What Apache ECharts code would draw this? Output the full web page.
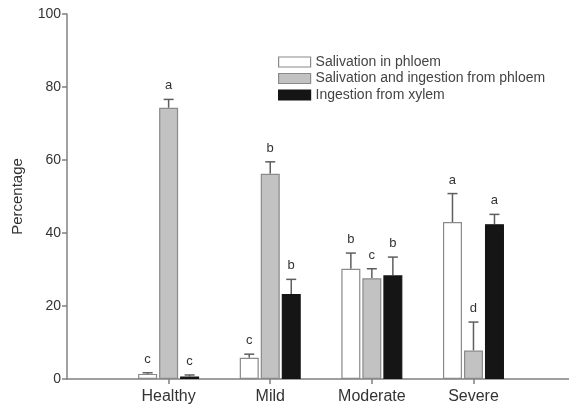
<!DOCTYPE html>
<html><head><meta charset="utf-8">
<script src="https://cdn.jsdelivr.net/npm/echarts@6/dist/echarts.min.js"></script>
<style>html,body{margin:0;padding:0;background:#fff}#c{width:569px;height:408px}</style>
</head><body><div id="c"></div>
<script>
const categories = ['Healthy', 'Mild', 'Moderate', 'Severe'];
const seriesNames = ['Salivation in phloem', 'Salivation and ingestion from phloem', 'Ingestion from xylem'];
const salivationPhloem = [1.4, 5.8, 30.2, 43.0];
const salivationIngestion = [74.3, 56.2, 27.6, 7.8];
const ingestionXylem = [0.7, 23.3, 28.4, 42.4];
const errSalivationPhloem = [0.3, 1.0, 4.3, 7.8];
const errSalivationIngestion = [2.3, 3.3, 2.6, 7.8];
const errIngestionXylem = [0.4, 4.0, 5.0, 2.7];
const lettersSalivationPhloem = ['c', 'c', 'b', 'a'];
const lettersSalivationIngestion = ['a', 'b', 'c', 'd'];
const lettersIngestionXylem = ['c', 'b', 'b', 'a'];
const yTicks = [0, 20, 40, 60, 80, 100];

const values = [salivationPhloem, salivationIngestion, ingestionXylem];
const errs = [errSalivationPhloem, errSalivationIngestion, errIngestionXylem];
const letters = [lettersSalivationPhloem, lettersSalivationIngestion, lettersIngestionXylem];
const fills = ['#ffffff', '#c2c2c2', '#151515'];
const borders = ['#8a8a8a', '#8a8a8a', '#151515'];
const BW = 19, GAP = 2;
const catPos = categories.map((c, k) => k + 1);

const chart = echarts.init(document.getElementById('c'), null, {renderer: 'canvas'});
const series = [];
values.forEach((vals, i) => {
  series.push({
    name: seriesNames[i], type: 'bar', barWidth: BW, barGap: (GAP / BW * 100) + '%',
    data: vals.map((v, k) => [catPos[k], v]),
    itemStyle: {color: fills[i], borderColor: borders[i], borderWidth: 1.2},
    z: 3
  });
});
values.forEach((vals, i) => {
  const data = vals.map((v, k) => [catPos[k], v, errs[i][k]]);
  series.push({
    type: 'custom', z: 2, silent: true,
    data: data,
    encode: {x: 0, y: 1},
    renderItem: function (params, api) {
      const k = api.value(0), v = api.value(1), e = api.value(2);
      const lt = letters[i][params.dataIndex];
      const off = (i - 1) * (BW + GAP);
      const p0 = api.coord([k, v]);
      const p1 = api.coord([k, v + e]);
      const x = p0[0] + off;
      return {
        type: 'group',
        children: [
          {type: 'line', shape: {x1: x, y1: p0[1], x2: x, y2: p1[1]}, style: {stroke: '#5e5e5e', lineWidth: 1.5}},
          {type: 'line', shape: {x1: x - 5, y1: p1[1], x2: x + 5, y2: p1[1]}, style: {stroke: '#5e5e5e', lineWidth: 1.5}},
          {type: 'text', style: {text: lt, x: x, y: p1[1] - 7, align: 'center', verticalAlign: 'bottom', font: '13px Liberation Sans, Arial', fill: '#333'}}
        ]
      };
    }
  });
});

chart.setOption({
  animation: false,
  backgroundColor: '#fff',
  grid: {left: 67, top: 14, right: 0, bottom: 29},
  legend: {
    orient: 'vertical', left: 273, top: 50, itemWidth: 32, itemHeight: 10, itemGap: 2.5,
    data: seriesNames.map((n, i) => ({name: n, itemStyle: {color: fills[i], borderColor: borders[i], borderWidth: 1.2}})),
    textStyle: {fontFamily: 'Liberation Sans, Arial', fontSize: 14, color: '#444'},
    icon: 'rect', itemStyle: {borderWidth: 1.2}
  },
  xAxis: {
    type: 'value', min: 0, max: 4.94, interval: 1,
    axisLine: {show: true, onZero: false, lineStyle: {color: '#808080', width: 1.5}},
    axisTick: {show: true, customValues: catPos, length: 5, lineStyle: {color: '#808080', width: 1.5}},
    axisLabel: {customValues: catPos, formatter: (v) => categories[Math.round(v) - 1] || '', margin: 10, fontFamily: 'Liberation Sans, Arial', fontSize: 16, color: '#333'},
    splitLine: {show: false}
  },
  yAxis: {
    type: 'value', min: yTicks[0], max: yTicks[yTicks.length - 1], interval: 20,
    name: 'Percentage', nameLocation: 'middle', nameGap: 42, nameRotate: 90,
    nameTextStyle: {fontFamily: 'Liberation Sans, Arial', fontSize: 15, color: '#333'},
    axisLine: {show: true, lineStyle: {color: '#808080', width: 1.5}},
    axisTick: {show: true, length: 5, lineStyle: {color: '#808080', width: 1.5}},
    axisLabel: {margin: 6, fontFamily: 'Liberation Sans, Arial', fontSize: 14, color: '#333'},
    splitLine: {show: false}
  },
  series: series
});
</script></body></html>
